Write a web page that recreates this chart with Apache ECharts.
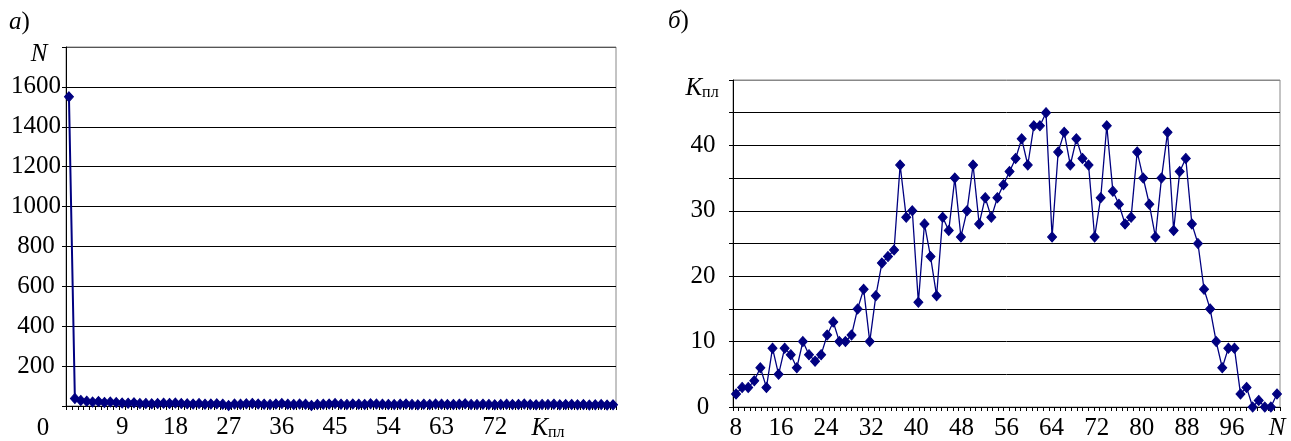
<!DOCTYPE html>
<html>
<head>
<meta charset="utf-8">
<script src="https://cdn.jsdelivr.net/npm/echarts@6/dist/echarts.min.js"></script>
<style>html,body{margin:0;padding:0;background:#fff;}#c{width:1291px;height:441px;}</style>
</head>
<body>
<div id="c"></div>
<script>
// ---- Chart (а): N versus K_пл ----
const leftK = [0,1,2,3,4,5,6,7,8,9,10,11,12,13,14,15,16,17,18,19,20,21,22,23,24,25,26,27,28,29,30,31,32,33,34,35,36,37,38,39,40,41,42,43,44,45,46,47,48,49,50,51,52,53,54,55,56,57,58,59,60,61,62,63,64,65,66,67,68,69,70,71,72,73,74,75,76,77,78,79,80,81,82,83,84,85,86,87,88,89,90,91,92];
const leftN = [
  1550, 38, 28, 24, 20, 22, 18, 20, 17, 15,
  14, 16, 12, 13, 11, 12, 14, 13, 15, 12,
  11, 10, 12, 9, 10, 11, 9, 2, 10, 9,
  11, 13, 10, 9, 8, 10, 12, 9, 8, 10,
  9, 3, 8, 9, 10, 12, 9, 8, 10, 9,
  8, 11, 10, 9, 8, 7, 9, 10, 8, 6,
  9, 8, 10, 9, 7, 8, 9, 11, 8, 7,
  9, 8, 6, 8, 9, 7, 8, 10, 7, 6,
  8, 7, 9, 6, 7, 8, 6, 7, 5, 6,
  7, 5, 6
];
// ---- Chart (б): K_пл versus N ----
const rightPoints = [1,2,3,4,5,6,7,8,9,10,11,12,13,14,15,16,17,18,19,20,21,22,23,24,25,26,27,28,29,30,31,32,33,34,35,36,37,38,39,40,41,42,43,44,45,46,47,48,49,50,51,52,53,54,55,56,57,58,59,60,61,62,63,64,65,66,67,68,69,70,71,72,73,74,75,76,77,78,79,80,81,82,83,84,85,86,87,88,89,90];
const rightK = [
  2, 3, 3, 4, 6, 3, 9, 5, 9, 8,
  6, 10, 8, 7, 8, 11, 13, 10, 10, 11,
  15, 18, 10, 17, 22, 23, 24, 37, 29, 30,
  16, 28, 23, 17, 29, 27, 35, 26, 30, 37,
  28, 32, 29, 32, 34, 36, 38, 41, 37, 43,
  43, 45, 26, 39, 42, 37, 41, 38, 37, 26,
  32, 43, 33, 31, 28, 29, 39, 35, 31, 26,
  35, 42, 27, 36, 38, 28, 25, 18, 15, 10,
  6, 9, 9, 2, 3, 0, 1, 0, 0, 2
];
const rightNTicks = [8,9,10,11,12,13,14,15,16,17,18,19,20,21,22,23,24,25,26,27,28,29,30,31,32,33,34,35,36,37,38,39,40,41,42,43,44,45,46,47,48,49,50,51,52,53,54,55,56,57,58,59,60,61,62,63,64,65,66,67,68,69,70,71,72,73,74,75,76,77,78,79,80,81,82,83,84,85,86,87,88,89,90,91,92,93,94,95,96,97,98,99,100,101,102,103,104];
const leftXLabels = [9,18,27,36,45,54,63,72];
const rightXLabels = [8,16,24,32,40,48,56,64,72,80,88,96];

const FONT = 'Liberation Serif';
const FS = 25;
const NAVY = '#000080';
const richK = {
  k: {fontFamily: FONT, fontSize: FS, fontStyle: 'italic', color: '#000'},
  s: {fontFamily: FONT, fontSize: 16, color: '#000', padding: [10, 0, 0, 0]},
  i: {fontFamily: FONT, fontSize: FS, fontStyle: 'italic', color: '#000'}
};
const blackLine = {color: '#000', width: 1};

const chart = echarts.init(document.getElementById('c'), null, {renderer: 'canvas'});
chart.setOption({
  animation: false,
  backgroundColor: '#fff',
  textStyle: {fontFamily: FONT},
  grid: [
    {left: 66, right: 675, top: 47, bottom: 35, show: true, borderColor: '#888', borderWidth: 1, backgroundColor: 'transparent'},
    {left: 733, right: 11, top: 80, bottom: 34, show: true, borderColor: '#888', borderWidth: 1, backgroundColor: 'transparent'}
  ],
  xAxis: [
    {
      type: 'category', gridIndex: 0, data: leftK, boundaryGap: true,
      axisLine: {show: true, lineStyle: blackLine},
      axisTick: {show: true, interval: 0, length: 4, lineStyle: blackLine},
      axisLabel: {
        interval: (i) => leftXLabels.indexOf(i) >= 0 || i === 81,
        margin: 9, color: '#000', fontFamily: FONT, fontSize: FS,
        formatter: (v) => (String(v) === '81' ? '{k|K}{s|пл}' : v),
        rich: richK
      },
      splitLine: {show: false}
    },
    {
      type: 'category', gridIndex: 1, data: rightPoints, boundaryGap: true, show: false
    },
    {
      type: 'category', gridIndex: 1, data: rightNTicks, boundaryGap: true, position: 'bottom',
      axisLine: {show: true, lineStyle: blackLine},
      axisTick: {show: true, interval: 0, length: 4, lineStyle: blackLine},
      axisLabel: {
        interval: (i, v) => rightXLabels.indexOf(Number(v)) >= 0 || Number(v) === 104,
        margin: 9, color: '#000', fontFamily: FONT, fontSize: FS,
        formatter: (v) => (String(v) === '104' ? '{i|N}' : v),
        rich: richK
      },
      splitLine: {show: false}
    }
  ],
  yAxis: [
    {
      type: 'value', gridIndex: 0, min: 0, max: 1800, interval: 200,
      axisLine: {show: true, lineStyle: blackLine},
      axisTick: {show: true, length: 4, lineStyle: blackLine},
      axisLabel: {
        margin: 30, align: 'center', color: '#000', fontFamily: FONT, fontSize: FS,
        formatter: (v) => (v === 0 || v === 1800 ? '' : String(v))
      },
      splitLine: {show: true, lineStyle: {color: ['#000','#000','#000','#000','#000','#000','#000','#000','#000','#555'], width: 1}}
    },
    {
      type: 'value', gridIndex: 1, min: 0, max: 50, interval: 5,
      axisLine: {show: true, lineStyle: blackLine},
      axisTick: {show: true, length: 4, lineStyle: blackLine},
      axisLabel: {
        margin: 30, align: 'center', color: '#000', fontFamily: FONT, fontSize: FS,
        formatter: (v) => (v % 10 === 0 && v < 50 ? String(v) : '')
      },
      splitLine: {show: true, lineStyle: {color: ['#000','#000','#000','#000','#000','#000','#000','#000','#000','#000','#888'], width: 1}}
    }
  ],
  series: [
    {
      type: 'line', xAxisIndex: 0, yAxisIndex: 0, data: leftN,
      symbol: 'diamond', symbolSize: [9, 10], showSymbol: true, showAllSymbol: true,
      lineStyle: {color: NAVY, width: 2},
      itemStyle: {color: NAVY, borderColor: NAVY},
      z: 5
    },
    {
      type: 'line', xAxisIndex: 1, yAxisIndex: 1, data: rightK,
      symbol: 'diamond', symbolSize: [9, 10], showSymbol: true, showAllSymbol: true,
      lineStyle: {color: NAVY, width: 1.3},
      itemStyle: {color: NAVY, borderColor: NAVY},
      z: 5
    }
  ],
  graphic: [
    {type: 'text', x: 9, y: 22, style: {text: '{i|а})', rich: richK, fontFamily: FONT, fontSize: FS, fill: '#000', align: 'left', verticalAlign: 'middle'}},
    {type: 'text', x: 668, y: 21, style: {text: '{i|б})', rich: richK, fontFamily: FONT, fontSize: FS, fill: '#000', align: 'left', verticalAlign: 'middle'}},
    {type: 'text', x: 39, y: 54, style: {text: '{i|N}', rich: richK, fontFamily: FONT, fontSize: FS, fill: '#000', align: 'center', verticalAlign: 'middle'}},
    {type: 'text', x: 702, y: 88, style: {text: '{k|K}{s|пл}', rich: richK, fontFamily: FONT, fontSize: FS, fill: '#000', align: 'center', verticalAlign: 'middle'}},
    {type: 'text', x: 43, y: 428, style: {text: '0', fontFamily: FONT, fontSize: FS, fill: '#000', align: 'center', verticalAlign: 'middle'}}
  ]
});
</script>
</body>
</html>
